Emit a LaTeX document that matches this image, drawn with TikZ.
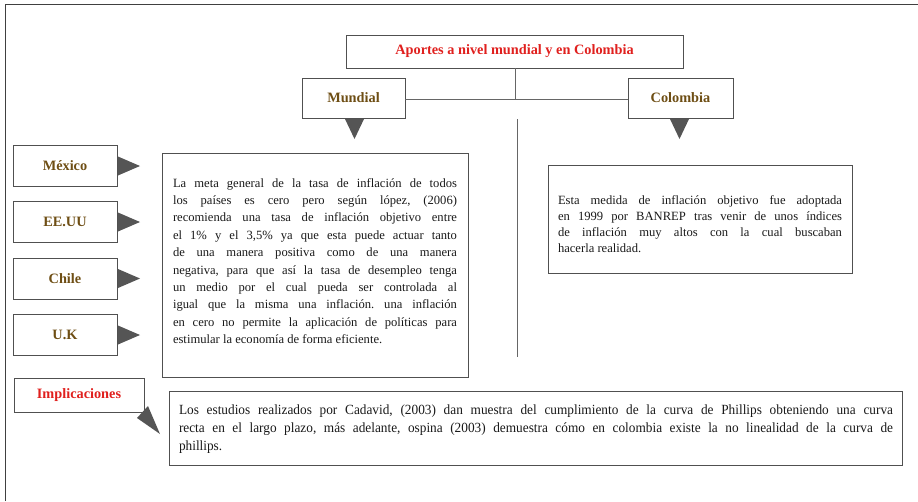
\documentclass[tikz,border=0pt]{standalone}
\usepackage{fontspec}
\setmainfont{Liberation Serif}
\frenchspacing
\definecolor{titlered}{HTML}{E0201E}
\definecolor{labelbrown}{HTML}{6E4E14}
\definecolor{boxline}{HTML}{505050}
\definecolor{arrowgray}{HTML}{555555}
\begin{document}
\begin{tikzpicture}[x=1pt,y=-1pt,
  frame/.style={draw=boxline,line width=0.9pt},
  conn/.style={draw=gray!80!black,line width=0.6pt},
  tip/.style={fill=arrowgray,draw=none},
  lab/.style={font=\fontsize{14.3}{16}\selectfont\bfseries,text=labelbrown},
  body/.style={font=\fontsize{12.6}{17.4}\selectfont\frenchspacing,text=black!90,align=justify}]
\useasboundingbox (0,0) rectangle (918,501);
% page frame
\draw[line width=1pt,draw=black!75] (5,501) -- (5,4) -- (918,4);
% title
\draw[frame] (346,35) rectangle (683,68);
\node[font=\fontsize{14.3}{16}\selectfont\bfseries,text=titlered] (title) at (514.5,51.5) {Aportes a nivel mundial y en Colombia};
% Mundial / Colombia
\draw[frame] (302,78) rectangle (405,118);
\node[lab] (mundial) at (353.5,98) {Mundial};
\draw[frame] (628,78) rectangle (733,118);
\node[lab] (colombia) at (680.5,98) {Colombia};
\coordinate (tb) at (515,68);
\coordinate (jn) at (515,99);
\coordinate (mr) at (405,99);
\coordinate (cl) at (628,99);
\draw[conn] (tb) -- (jn);
\draw[conn] (mr) -- (cl);
\coordinate (vt) at (517,119);
\coordinate (vb) at (517,357);
\draw[conn] (vt) -- (vb);
\fill[tip] (345,119) -- (364,119) -- (354.5,139) -- cycle;
\fill[tip] (670,119) -- (689,119) -- (679.5,139) -- cycle;
% countries
\foreach \n/\t/\y in {mex/México/166, eeuu/EE.UU/222, chile/Chile/278.5, uk/U.K/335}{
  \draw[frame] (13,\y-20.5) rectangle (117,\y+20.5);
  \node[lab] (\n) at (65,\y) {\t};
  \fill[tip] (118,\y-9.5) -- (140,\y) -- (118,\y+9.5) -- cycle;
}
% Mundial text box
\draw[frame] (162,153) rectangle (468,377);
\node[body,text width=284pt] (mtext) at (315,261) {La meta general de la tasa de inflación de todos\linebreak los países es cero pero según lópez, (2006)\linebreak recomienda una tasa de inflación objetivo entre\linebreak el 1\% y el 3,5\% ya que esta puede actuar tanto\linebreak de una manera positiva como de una manera\linebreak negativa, para que así la tasa de desempleo tenga\linebreak un medio por el cual pueda ser controlada al\linebreak igual que la misma una inflación. una inflación\linebreak en cero no permite la aplicación de políticas para\linebreak estimular la economía de forma eficiente.};
% Colombia text box
\draw[frame] (548,165) rectangle (852,273);
\node[body,text width=284pt,font=\fontsize{12.6}{16.2}\selectfont\frenchspacing] (ctext) at (700,224) {Esta medida de inflación objetivo fue adoptada\linebreak en 1999 por BANREP tras venir de unos índices\linebreak de inflación muy altos con la cual buscaban\linebreak hacerla realidad.};
% Implicaciones
\draw[frame] (14,378) rectangle (144,412);
\node[font=\fontsize{14.3}{16}\selectfont\bfseries,text=titlered] (impl) at (79,395) {Implicaciones};
\fill[tip] (137,418) -- (148,406) -- (160,434) -- cycle;
\draw[frame] (169,391) rectangle (902,465);
\node[body,text width=714pt,font=\fontsize{14}{18.2}\selectfont\addfontfeature{FakeStretch=0.95}\frenchspacing] (itext) at (536,429) {Los estudios realizados por Cadavid, (2003) dan muestra del cumplimiento de la curva de Phillips obteniendo una curva\linebreak recta en el largo plazo, más adelante, ospina (2003) demuestra cómo en colombia existe la no linealidad de la curva de\linebreak phillips.};
\end{tikzpicture}
\end{document}
